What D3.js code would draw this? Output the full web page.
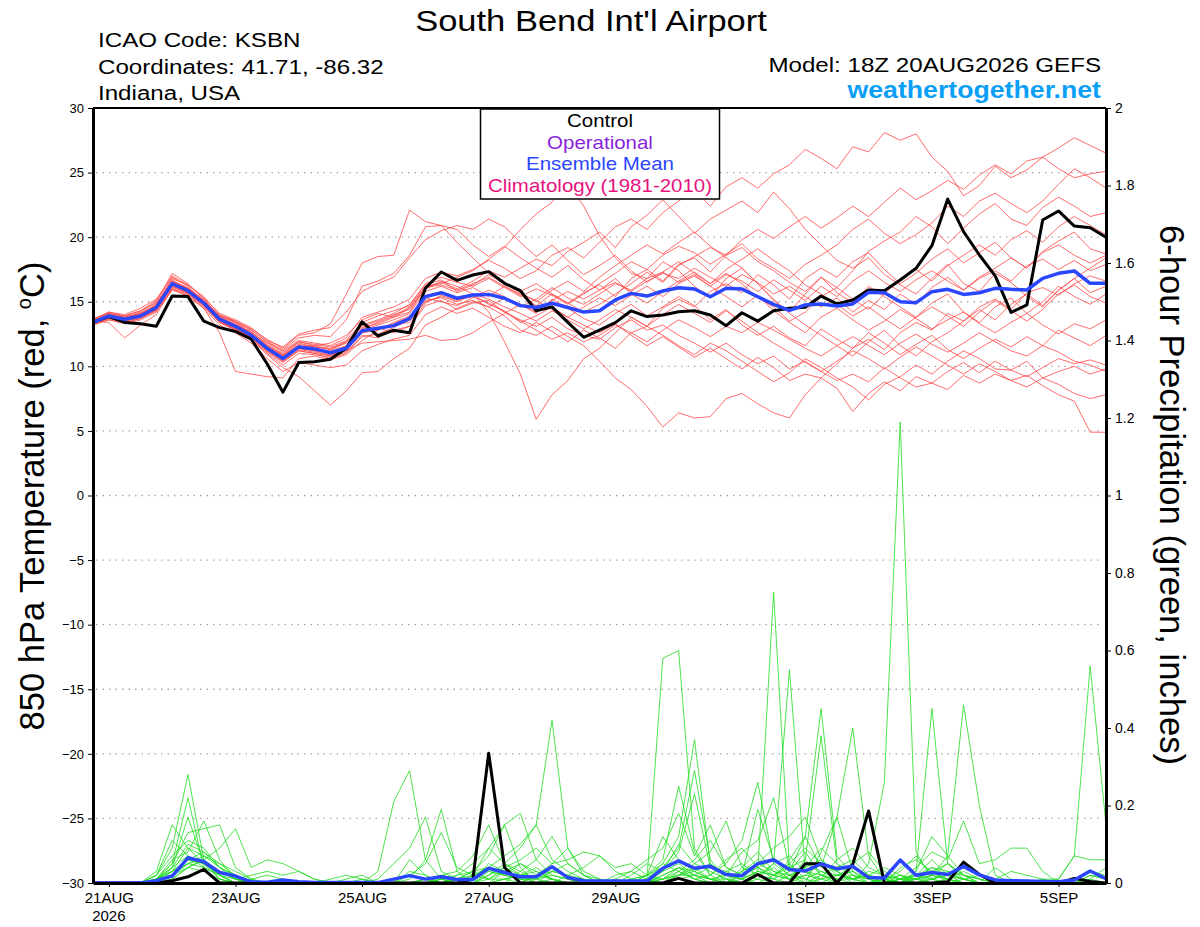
<!DOCTYPE html>
<html>
<head>
<meta charset="utf-8">
<script src="https://cdn.jsdelivr.net/npm/d3@7"></script>
<style>
  body { margin: 0; background: #fff; }
  svg { display: block; font-family: "Liberation Sans", Arial, Helvetica, sans-serif; }
</style>
</head>
<body>
<script>
// 6-hourly steps from 18Z 20AUG2026 to 18Z 05SEP2026 (65 points)
const START_UTC = Date.UTC(2026, 7, 20, 18);
const STEP_MS = 6 * 3600 * 1000;
const N_STEPS = 65;

const TEMP_TICKS = [30, 25, 20, 15, 10, 5, 0, -5, -10, -15, -20, -25, -30];
const PRECIP_TICKS = [2, 1.8, 1.6, 1.4, 1.2, 1, 0.8, 0.6, 0.4, 0.2, 0];
const DATE_TICKS = ["2026-08-21", "2026-08-23", "2026-08-25", "2026-08-27", "2026-08-29", "2026-09-01", "2026-09-03", "2026-09-05"];
const DATE_LABELS = ["21AUG", "23AUG", "25AUG", "27AUG", "29AUG", "1SEP", "3SEP", "5SEP"];
const LEGEND_ITEMS = ["Control", "Operational", "Ensemble Mean", "Climatology (1981-2010)"];

// 850 hPa temperature, control run and ensemble mean
const controlTemp = [13.4,13.85,13.4,13.3,13.1,15.45,15.4,13.5, 13.0,12.7,12.1,10.2,8.0,10.3,10.35,10.55,
  11.4,13.45,12.35,12.8,12.6,16.05,17.3,16.65, 17.07,17.33,16.43,15.86,14.3,14.6,13.4,12.25,
  12.8,13.38,14.3,13.85,13.97,14.23,14.3,13.97, 13.15,14.15,13.5,14.31,14.49,14.57,15.44,14.83,
  15.14,15.91,15.86,16.68,17.59,19.34,22.95,20.43, 18.62,17.0,14.18,14.75,21.33,22.03,20.86,20.73, 19.99];
const meanTemp = [13.4,13.9,13.65,13.9,14.55,16.4,15.85,14.9, 13.65,13.1,12.4,11.4,10.6,11.5,11.35,11.05,
  11.4,12.75,12.95,13.15,13.7,15.4,15.7,15.27, 15.52,15.57,15.27,14.7,14.55,14.88,14.55,14.2,
  14.3,15.14,15.65,15.44,15.83,16.09,15.99,15.39, 16.04,15.99,15.39,14.8,14.33,14.75,14.83,14.67,
  14.83,15.73,15.7,15.0,14.93,15.78,15.96,15.57, 15.7,16.04,15.96,15.91,16.81,17.2,17.38,16.43, 16.43];

// 850 hPa temperature, 20 perturbed members
const memberTemp = [
  [13.6,14.2,14.0,14.5,15.2,16.9,16.2,15.0, 13.9,13.4,12.6,11.8,11.2,12.0,11.8,11.6, 12.2,13.8,14.2,14.6,15.2,16.8,17.3,17.0, 17.5,18.2,17.6,16.8,17.4,18.6,19.2,18.4, 19.6,20.8,21.4,20.6,21.9,22.8,23.6,22.4, 23.9,24.6,23.8,24.9,25.6,26.8,26.1,25.3, 27.0,26.6,28.1,27.5,28.0,26.2,25.1,23.2, 24.0,25.5,24.6,25.2,26.2,26.9,27.7,27.1, 26.5],
  [13.3,13.7,13.5,13.8,14.3,16.0,15.6,14.6, 13.4,12.8,12.1,11.0,10.1,11.0,10.9,10.7, 11.1,12.4,12.2,12.8,13.1,14.7,15.1,14.4, 14.9,15.1,14.2,13.6,13.1,13.8,12.9,12.4, 12.1,13.0,13.6,12.8,13.2,12.4,11.8,11.1, 11.8,10.9,10.2,10.8,9.8,10.4,9.6,8.9, 9.4,8.8,9.9,9.1,8.4,8.7,8.2,9.3, 8.7,9.4,8.9,9.3,8.5,7.8,7.3,4.9, 4.9],
  [13.5,13.9,13.8,14.0,14.8,16.6,16.0,15.2, 13.8,13.2,12.7,11.6,10.9,11.8,11.5,11.3, 11.8,13.1,13.5,14.0,14.4,16.0,16.6,16.2, 15.6,14.2,11.9,9.4,5.9,7.8,8.9,10.6, 11.4,12.6,13.8,13.1,14.5,15.2,14.6,15.8, 16.4,15.7,17.1,16.3,15.2,16.8,17.6,16.9, 18.1,18.8,17.5,16.4,17.2,18.3,19.1,18.0, 18.8,19.6,18.4,17.6,18.9,19.7,20.4,19.1, 18.7],
  [13.2,13.8,13.4,13.7,14.4,16.3,15.7,14.7, 13.5,12.9,12.3,11.2,10.4,11.3,11.1,10.9, 11.2,12.6,12.9,13.2,13.4,15.1,15.3,14.8, 15.1,14.6,13.9,12.8,12.4,13.1,12.3,11.6, 10.4,9.1,8.2,6.9,5.3,6.4,6.0,6.1, 7.5,7.9,7.1,6.4,6.0,7.8,9.1,10.2, 11.4,12.1,11.3,12.6,13.4,12.8,14.1,13.5, 14.6,15.2,14.4,15.7,16.1,15.5,16.4,17.0, 16.6],
  [13.7,14.1,13.9,14.3,14.9,16.8,16.3,15.4, 14.0,13.5,12.9,12.1,11.4,12.4,12.6,13.3, 15.6,18.0,18.5,18.6,22.1,21.2,20.9,19.6, 18.4,17.2,16.5,15.8,16.4,15.6,14.9,15.7, 16.3,15.4,16.8,17.5,16.6,17.9,18.4,17.3, 18.6,19.2,18.1,17.4,16.5,15.8,16.9,15.7, 14.9,16.2,15.4,14.6,13.8,14.9,15.6,14.2, 13.4,14.6,15.3,14.1,15.0,16.2,15.4,14.8, 15.6],
  [13.4,14.0,13.7,14.1,14.7,16.5,15.9,14.8, 13.6,13.0,12.5,11.5,10.8,11.6,11.3,11.2, 11.6,12.9,13.4,13.9,14.6,16.2,16.4,16.9, 17.4,18.3,19.2,20.6,21.8,22.7,24.2,22.4, 20.1,18.4,17.2,16.8,18.1,17.4,16.2,15.3, 16.8,17.6,16.4,15.1,14.2,15.6,16.9,16.1, 17.4,18.9,19.7,20.4,21.6,20.8,19.5,20.7, 21.8,22.6,21.4,20.9,22.3,23.1,22.4,21.6, 21.9],
  [13.5,13.8,13.6,13.9,14.6,16.4,15.8,15.0, 13.7,13.2,12.4,11.4,10.7,11.5,11.6,11.8, 12.4,13.6,14.1,13.8,14.2,16.1,16.5,16.0, 16.6,17.4,16.9,17.6,18.3,17.8,18.9,19.6, 20.4,19.2,20.8,21.7,22.9,21.6,20.3,21.4, 22.1,22.8,21.9,23.5,22.2,20.6,19.4,18.2, 17.6,18.4,17.1,16.3,15.6,16.8,17.9,16.4, 15.8,17.2,16.5,15.4,14.6,15.9,16.8,15.7, 16.2],
  [13.3,13.6,13.3,13.6,14.2,15.9,15.5,14.5, 13.2,12.6,11.8,10.6,9.6,10.3,10.1,9.9, 10.1,11.2,11.7,12.1,12.4,14.0,14.6,14.1, 14.5,13.8,13.1,12.6,13.4,12.7,11.9,12.8, 12.2,11.4,12.6,13.1,12.4,11.6,10.9,11.8, 11.2,10.4,9.6,8.8,9.5,10.6,9.9,9.1, 8.4,7.4,8.6,9.2,10.1,9.4,10.4,11.2, 10.6,9.8,9.7,10.4,9.1,9.6,10.0,9.4, 9.8],
  [13.4,13.7,13.5,13.8,14.4,16.2,15.6,14.7, 13.4,12.9,12.1,10.9,9.9,9.2,8.1,7.0, 8.1,9.5,9.6,10.6,11.4,13.2,13.8,14.5, 15.0,14.6,15.3,14.8,14.1,15.2,14.5,13.7, 13.2,14.1,14.8,13.9,14.6,15.4,14.7,13.6, 14.4,13.2,12.4,13.1,12.2,11.6,12.9,12.1, 11.4,12.6,11.8,10.9,11.7,12.4,11.3,10.6, 11.4,12.1,11.5,12.3,11.6,12.8,12.2,11.6, 12.4],
  [13.5,13.4,12.2,13.2,14.0,16.0,15.4,14.5, 12.6,9.6,9.4,9.2,9.1,10.6,10.8,10.5, 10.9,12.0,12.8,13.4,13.9,15.3,15.0,14.7, 15.3,15.9,15.4,14.6,15.2,16.1,15.3,14.8, 15.6,16.4,15.9,16.8,17.3,16.5,17.1,16.2, 15.4,14.6,15.5,14.3,13.4,12.6,13.8,14.5, 13.6,12.8,13.5,14.4,13.7,12.9,13.6,14.2, 13.3,12.6,13.4,14.1,13.2,12.5,13.3,12.9, 13.6],
  [13.6,14.1,13.8,14.2,15.0,17.2,16.4,15.2, 13.9,13.5,12.8,11.9,11.1,11.9,11.7,11.5, 12.0,13.4,13.9,14.3,14.7,16.4,16.9,16.5, 16.2,16.8,16.1,15.4,16.0,15.5,14.8,15.6, 16.4,17.2,18.1,17.5,18.6,19.3,18.8,17.9, 18.7,19.5,18.3,17.6,16.8,17.9,18.6,19.4, 20.6,21.4,20.3,19.5,20.2,21.1,22.4,21.6, 22.8,23.4,22.6,21.9,22.8,24.1,25.3,24.6, 23.8],
  [13.3,13.9,13.6,13.8,14.5,16.3,15.9,14.9, 13.5,13.0,12.3,11.3,10.6,11.4,11.2,10.8, 11.3,12.7,13.0,12.6,13.1,14.9,15.5,15.1, 15.4,14.9,14.2,13.5,12.8,12.1,12.6,11.9, 12.4,13.2,12.6,11.9,12.8,13.6,13.0,12.3, 13.1,12.6,13.4,12.8,12.1,11.4,10.8,11.6, 12.3,11.6,10.9,11.8,12.5,11.7,11.1,11.8, 12.6,11.9,11.2,10.8,11.6,11.1,10.4,10.1, 9.6],
  [13.4,14.0,13.8,14.1,14.8,16.7,16.0,15.1, 13.9,13.4,12.8,11.9,11.3,12.2,12.4,12.3, 13.6,16.2,16.6,17.2,18.6,20.8,20.9,20.6, 19.4,18.5,19.3,18.4,17.6,16.9,17.8,16.7, 15.9,16.8,15.6,14.9,15.8,16.6,17.3,16.4, 17.2,16.4,15.3,14.6,13.5,14.2,15.4,16.1, 15.2,14.4,15.6,16.8,17.5,16.6,17.8,18.6, 19.4,18.6,19.8,20.5,19.6,20.8,21.6,20.9, 20.2],
  [13.2,13.6,13.4,13.7,14.3,16.1,15.7,14.8, 13.6,13.1,12.5,11.6,10.9,11.6,11.4,11.0, 11.2,11.8,11.9,12.0,12.1,12.4,12.0,12.1, 12.6,13.4,14.1,14.8,14.2,15.1,15.8,15.2, 15.9,16.5,15.8,16.6,17.2,16.8,17.6,16.9, 16.2,17.1,16.5,15.6,16.2,15.4,14.6,15.3, 14.2,15.1,14.4,15.6,14.8,16.1,16.9,15.9, 16.8,17.4,16.6,17.8,18.3,17.5,18.2,17.4, 17.9],
  [13.5,14.0,13.7,14.0,14.7,16.6,16.1,15.0, 13.8,13.3,12.6,11.7,11.0,11.9,11.6,11.3, 11.9,13.2,13.6,14.1,14.8,16.3,16.7,15.8, 16.3,17.1,16.4,15.7,15.0,15.9,16.6,15.8, 16.9,17.8,18.6,19.4,18.7,19.6,20.4,19.3, 18.4,17.6,16.4,15.2,14.1,13.2,12.4,11.6, 10.8,11.9,12.8,11.6,10.8,11.9,12.6,13.5, 14.4,13.6,14.8,15.6,14.7,15.9,16.8,17.6, 18.4],
  [13.4,13.9,13.7,13.9,14.6,16.5,16.0,15.1, 13.7,13.1,12.4,11.3,10.5,11.4,11.2,11.1, 11.5,12.8,13.2,13.6,14.1,15.8,16.2,15.7, 16.1,15.4,16.2,15.5,14.7,15.6,14.9,14.2, 14.8,15.6,16.4,17.3,16.5,17.8,18.5,19.2, 18.6,19.8,20.6,19.9,20.8,21.6,20.7,21.5, 22.4,21.6,22.7,23.8,22.9,23.6,24.4,23.7, 24.8,25.6,24.9,25.9,26.2,25.3,24.6,24.9, 25.1],
  [13.3,13.8,13.5,13.8,14.5,16.2,15.8,14.8, 13.4,12.8,12.2,11.1,10.3,11.2,11.0,10.6, 11.0,12.3,12.5,13.0,13.6,15.0,15.4,15.0, 15.6,14.8,14.3,13.4,13.9,14.6,13.8,13.2, 12.6,13.3,12.4,11.6,12.3,11.5,10.7,11.4, 10.6,9.8,10.7,9.9,8.9,9.4,9.1,8.3, 6.5,7.9,8.8,8.1,9.2,8.7,9.6,10.3, 9.5,10.4,9.7,9.2,9.9,10.6,10.2,10.5, 10.1],
  [13.5,14.0,13.7,14.1,14.6,16.5,16.0,14.9, 13.7,13.2,12.5,11.5,10.8,11.7,11.5,11.4, 11.9,13.0,13.3,13.8,14.5,16.1,16.3,15.9, 16.4,16.9,16.2,15.6,15.1,14.4,13.8,14.6, 15.3,14.7,15.5,16.2,15.4,16.4,17.0,16.2, 17.1,16.6,15.8,16.7,15.9,15.1,16.2,15.4, 16.6,17.4,16.5,15.8,16.7,17.4,16.6,15.9, 16.9,17.6,18.4,17.6,18.8,19.4,18.6,18.0, 18.6],
  [13.6,14.2,13.9,14.3,15.1,17.0,16.3,15.3, 14.1,13.6,13.0,12.0,11.5,12.5,12.8,13.0, 14.2,15.8,16.4,16.9,18.4,19.8,20.5,20.9, 20.6,21.4,20.8,19.6,18.5,19.4,18.2,17.1, 17.8,18.6,17.4,16.5,17.3,18.1,17.2,16.4, 17.5,18.3,19.1,18.2,17.4,16.3,15.6,14.8, 13.9,14.6,13.7,12.9,13.8,14.6,13.9,13.1, 14.2,15.1,14.3,13.5,14.4,15.6,16.3,15.4, 14.9],
  [13.4,13.8,13.6,13.9,14.4,16.3,15.8,14.8, 13.5,12.9,12.2,11.2,10.4,11.2,11.0,10.8, 11.3,12.6,12.8,13.3,13.8,15.5,15.7,15.2, 15.6,15.2,14.6,14.1,13.5,14.3,13.6,12.9, 13.6,14.4,13.8,13.1,14.0,14.8,14.1,13.4, 14.3,13.5,12.6,11.8,11.1,10.3,9.6,10.4, 11.2,10.6,9.8,10.7,11.5,10.8,10.1,9.4, 10.2,9.6,8.9,8.4,9.1,8.6,7.9,7.5, 7.8]
];

// 6-hour precipitation (inches), control run and ensemble mean
const controlPrecip = [0,0,0,0,0,0.006,0.016,0.035, 0,0,0,0,0,0,0,0, 0,0,0,0,0,0,0,0,
  0.01,0.335,0.04,0,0,0,0,0, 0,0,0,0,0,0.012,0,0, 0,0,0.022,0,0,0.05,0.05,0,
  0.048,0.186,0,0,0,0,0.003,0.054, 0.022,0,0,0,0,0,0.012,0.004, 0];
const meanPrecip = [0,0,0,0,0.006,0.018,0.065,0.055, 0.027,0.018,0.003,0.002,0.008,0.003,0.001,0.001,
  0.001,0.001,0.001,0.01,0.019,0.01,0.016,0.009, 0.009,0.038,0.027,0.016,0.016,0.042,0.014,0.006,
  0.005,0.005,0.005,0.005,0.038,0.057,0.038,0.043, 0.022,0.019,0.05,0.06,0.035,0.031,0.049,0.037,
  0.043,0.014,0.013,0.059,0.02,0.027,0.022,0.043, 0.021,0.008,0.006,0.005,0.004,0.003,0.008,0.031, 0.011];

// 6-hour precipitation (inches), 20 perturbed members
const memberPrecip = [
  [0,0,0,0,0.02,0.09,0.28,0.06, 0.01,0,0,0,0,0,0,0, 0,0,0,0,0,0,0,0, 0,0.02,0.05,0.09,0.15,0.42,0.09,0.02, 0,0,0.01,0,0,0.03,0.01,0, 0,0,0.02,0.04,0.01,0,0.02,0, 0,0.05,0.26,1.19,0.08,0.01,0,0, 0,0,0,0,0,0,0.01,0, 0],
  [0,0,0,0,0.01,0.05,0.22,0.04, 0,0,0,0,0,0,0,0, 0,0,0.03,0.21,0.29,0.06,0.01,0, 0,0,0.01,0.02,0,0,0,0, 0,0,0,0.01,0.58,0.6,0.09,0.02, 0,0,0.03,0.75,0.04,0,0.01,0, 0,0,0.01,0,0,0.02,0.05,0.01, 0,0,0,0,0,0,0,0, 0],
  [0,0,0,0,0,0.04,0.17,0.05, 0.02,0,0,0,0,0,0,0, 0,0,0,0,0.01,0.06,0.19,0.03, 0,0,0,0,0,0.01,0,0, 0,0,0.01,0.02,0.04,0.09,0.29,0.06, 0.01,0,0.02,0.05,0.55,0.03,0,0, 0,0,0,0,0.02,0.01,0,0, 0,0,0,0,0,0,0,0, 0],
  [0,0,0,0,0.03,0.15,0.09,0.05, 0.02,0,0,0,0,0,0,0, 0,0,0,0,0,0,0,0.01, 0.03,0.07,0.15,0.04,0,0,0,0, 0,0,0,0.02,0.05,0.12,0.37,0.05, 0,0.02,0.04,0.01,0.06,0.12,0.45,0.07, 0.02,0,0.01,0,0.03,0.12,0.07,0.46, 0.2,0.02,0,0,0,0,0,0, 0],
  [0,0,0,0,0.01,0.06,0.08,0.16, 0.06,0.01,0,0,0,0,0,0, 0,0,0,0,0.06,0.02,0,0, 0,0,0,0.03,0.06,0.12,0.05,0.02, 0,0.01,0,0.02,0.06,0.25,0.08,0.02, 0.05,0.11,0.26,0.05,0.02,0,0.08,0.17, 0.4,0.07,0.01,0,0.03,0.45,0.05,0.02, 0,0,0,0,0,0,0,0, 0],
  [0,0,0,0,0,0.02,0.05,0.06, 0.09,0.14,0.04,0.06,0.05,0.03,0.01,0, 0,0,0,0,0.02,0.05,0.13,0.04, 0.02,0.04,0.07,0.1,0.15,0.06,0.03,0.01, 0,0,0.02,0.05,0.03,0.08,0.23,0.04, 0.02,0.08,0.11,0.22,0.04,0.06,0.38,0.05, 0.01,0,0,0.02,0.01,0,0,0.01, 0,0,0,0,0.01,0.01,0.07,0.56, 0.15],
  [0,0,0,0,0.02,0.07,0.11,0.09, 0.04,0.02,0,0,0,0,0,0, 0,0,0.01,0.05,0.09,0.17,0.03,0.01, 0,0,0.03,0.01,0,0,0.02,0.04, 0.07,0.03,0.01,0.02,0.12,0.06,0.03,0.01, 0,0.03,0.05,0.09,0.12,0.17,0.06,0.02, 0.01,0.03,0.02,0.01,0.04,0.08,0.06,0.16, 0.05,0.06,0.09,0.09,0.03,0,0,0.02, 0.01],
  [0,0,0,0,0.01,0.04,0.07,0.05, 0.03,0.01,0,0,0,0,0,0, 0,0,0,0,0,0.01,0.02,0.03, 0.07,0.15,0.05,0.02,0.04,0.01,0,0, 0,0.01,0.03,0.06,0.09,0.18,0.07,0.15, 0.04,0.02,0.19,0.06,0.03,0.12,0.04,0.17, 0.03,0,0,0,0.01,0.03,0,0, 0,0,0.01,0,0,0,0,0, 0],
  [0,0,0,0,0,0.03,0.06,0.08, 0.05,0.03,0.01,0,0,0,0,0, 0,0,0,0,0,0,0.01,0, 0.02,0.09,0.15,0.18,0.06,0.02,0.01,0, 0.01,0,0,0.01,0.03,0.1,0.05,0.08, 0.16,0.04,0.02,0.01,0,0.02,0.05,0.03, 0,0,0.02,0,0,0,0.01,0, 0,0,0,0,0,0.01,0.07,0.06, 0.06],
  [0,0,0,0,0,0.02,0.04,0.03, 0.01,0,0.01,0.02,0.01,0,0,0, 0.01,0.02,0,0.01,0.02,0.01,0,0, 0,0,0,0,0.02,0.05,0.06,0.08, 0.07,0.04,0.05,0.02,0.01,0.04,0.02,0, 0,0.01,0.03,0.02,0.05,0.01,0,0.02, 0.04,0.02,0,0.01,0.02,0.06,0.02,0.01, 0,0.04,0.01,0,0,0,0,0, 0],
  [0,0,0,0,0.01,0.03,0.05,0.07, 0.04,0.02,0,0,0,0,0,0, 0,0,0,0,0,0,0.01,0.02, 0.03,0.01,0.04,0.06,0.09,0.05,0.09,0.03, 0.01,0,0,0.01,0.05,0.03,0.01,0.02, 0.06,0.09,0.04,0.02,0.01,0.05,0.03,0.01, 0,0,0.01,0.02,0,0.01,0.03,0.02, 0.01,0,0,0,0,0,0,0.02, 0.01],
  [0,0,0,0,0.02,0.11,0.07,0.04, 0.02,0.01,0.02,0.03,0.02,0.03,0.01,0, 0,0,0,0,0,0,0,0.01, 0.02,0.03,0.02,0.01,0.01,0.03,0.02,0, 0,0.02,0.03,0.01,0,0.02,0.04,0.01, 0.02,0.01,0.05,0.03,0.02,0.04,0.06,0.03, 0.05,0.08,0.03,0.01,0,0.01,0.02,0.01, 0,0,0,0,0,0,0,0, 0],
  [0,0,0,0,0,0.01,0.04,0.06, 0.03,0.02,0,0,0,0,0,0, 0,0,0,0,0,0,0,0.02, 0.05,0.09,0.05,0.03,0.01,0,0,0, 0,0,0,0,0.02,0.04,0.01,0, 0.03,0.05,0.02,0.01,0.03,0.08,0.02,0.04, 0.06,0.02,0.01,0.03,0.07,0.02,0.01,0, 0,0,0,0,0,0,0,0.01, 0.04],
  [0,0,0,0,0.01,0.05,0.13,0.14, 0.15,0.04,0.01,0,0,0,0,0, 0,0,0,0,0,0.01,0,0, 0,0,0.01,0,0.02,0.01,0,0, 0,0,0,0,0.01,0.03,0.06,0.11, 0.04,0.02,0.01,0,0.02,0.04,0.09,0.05, 0.02,0.01,0,0.04,0.06,0.03,0.01,0.03, 0.01,0,0,0,0,0,0,0, 0],
  [0,0,0,0,0,0.02,0.06,0.05, 0.03,0.01,0,0,0,0,0,0, 0,0.01,0,0,0,0,0.01,0, 0,0.02,0.04,0.02,0,0.03,0.05,0.02, 0.01,0,0,0,0,0.02,0.03,0.01, 0,0.04,0.08,0.03,0.01,0.02,0.01,0.06, 0.09,0.04,0.02,0.01,0.01,0.04,0.03,0.01, 0.02,0.01,0.03,0.02,0.01,0,0,0, 0],
  [0,0,0,0,0.01,0.03,0.09,0.07, 0.05,0.02,0,0,0,0,0,0.01, 0.02,0.01,0,0,0,0,0,0, 0,0.03,0.02,0.05,0.03,0.01,0,0, 0,0,0,0,0.03,0.05,0.02,0.01, 0.01,0,0.01,0.05,0.07,0.03,0.02,0.01, 0.01,0.02,0.04,0.02,0.01,0.02,0.07,0.02, 0,0,0,0,0,0,0.01,0.03, 0.02],
  [0,0,0,0,0.01,0.04,0.1,0.08, 0.04,0.01,0,0,0,0,0,0, 0,0,0,0,0.03,0.02,0,0, 0.01,0.05,0.03,0.01,0.02,0.04,0.01,0, 0,0,0,0,0.02,0.04,0.03,0.05, 0.02,0.01,0.03,0.02,0.05,0.09,0.05,0.03, 0.01,0,0,0.01,0.02,0.04,0.02,0, 0,0,0,0,0,0,0,0, 0],
  [0,0,0,0,0,0.02,0.05,0.04, 0.02,0,0,0,0,0,0,0, 0,0,0,0,0,0.01,0.02,0.01, 0.03,0.04,0.02,0.01,0.01,0.02,0.01,0, 0,0,0,0.01,0.01,0.02,0.05,0.03, 0.01,0.03,0.06,0.02,0.01,0.06,0.02,0.01, 0.02,0.01,0,0,0.01,0.01,0.02,0.01, 0,0,0,0,0,0,0,0, 0],
  [0,0,0,0,0.01,0.03,0.06,0.05, 0.01,0,0,0,0,0,0,0, 0,0,0,0,0,0,0,0, 0.02,0.01,0.01,0.02,0.03,0.01,0,0, 0,0,0,0,0.01,0.02,0.02,0.01, 0,0.02,0.04,0.06,0.02,0.01,0.03,0.02, 0.01,0.02,0.01,0,0.01,0.02,0.01,0, 0,0,0,0,0,0,0,0, 0],
  [0,0,0,0,0,0.01,0.04,0.06, 0.03,0.01,0,0,0,0,0,0, 0,0,0,0,0,0,0.02,0.01, 0,0.01,0.03,0.05,0.02,0.03,0.02,0.01, 0,0,0,0,0,0.01,0.02,0.04, 0.03,0.01,0,0.02,0.04,0.03,0.01,0.02, 0.03,0.01,0,0.01,0.01,0.03,0.05,0.02, 0.01,0,0,0,0,0,0,0.01, 0]
];

const WIDTH = 1200;
const HEIGHT = 927;
const PLOT = { left: 93, right: 1106, top: 108, bottom: 883 };
const TEXT_STRETCH = 1.15; // the original lettering is a little wider than Arial

const times = d3.range(N_STEPS).map(i => new Date(START_UTC + i * STEP_MS));

const svg = d3.select("body").append("svg")
  .attr("width", WIDTH)
  .attr("height", HEIGHT);

const x = d3.scaleUtc()
  .domain([times[0], times[N_STEPS - 1]])
  .range([PLOT.left, PLOT.right]);
const yTemp = d3.scaleLinear().domain([-30, 30]).range([PLOT.bottom, PLOT.top]);
const yPrecip = d3.scaleLinear().domain([0, 2]).range([PLOT.bottom, PLOT.top]);

const tempLine = d3.line().x((_, i) => x(times[i])).y(d => yTemp(d));
const precipLine = d3.line().x((_, i) => x(times[i])).y(d => yPrecip(d));

svg.append("defs").append("clipPath").attr("id", "plot-clip")
  .append("rect")
  .attr("x", PLOT.left).attr("y", PLOT.top)
  .attr("width", PLOT.right - PLOT.left).attr("height", PLOT.bottom - PLOT.top);

// dotted horizontal grid at the temperature ticks
svg.append("g")
  .selectAll("line")
  .data(TEMP_TICKS.filter(t => t > -30 && t < 30))
  .enter().append("line")
  .attr("x1", PLOT.left + 3).attr("x2", PLOT.right - 3)
  .attr("y1", d => yTemp(d)).attr("y2", d => yTemp(d))
  .attr("stroke", "#a8a8a8")
  .attr("stroke-width", 1.3)
  .attr("stroke-dasharray", "1.5,5");

const plot = svg.append("g").attr("clip-path", "url(#plot-clip)");

plot.append("g").attr("class", "members-temp")
  .selectAll("path")
  .data(memberTemp)
  .enter().append("path")
  .attr("d", tempLine)
  .attr("fill", "none")
  .attr("stroke", "#ff4646")
  .attr("stroke-width", 0.8);

plot.append("g").attr("class", "members-precip")
  .selectAll("path")
  .data(memberPrecip)
  .enter().append("path")
  .attr("d", precipLine)
  .attr("fill", "none")
  .attr("stroke", "#1fdc1f")
  .attr("stroke-width", 0.8);

const heavy = (d, lineFn, color, w) => plot.append("path")
  .datum(d)
  .attr("d", lineFn)
  .attr("fill", "none")
  .attr("stroke", color)
  .attr("stroke-width", w)
  .attr("stroke-linejoin", "round");

heavy(controlTemp, tempLine, "#000", 3);
heavy(controlPrecip, precipLine, "#000", 3);
heavy(meanTemp, tempLine, "#2a46ff", 3.5);
heavy(meanPrecip, precipLine, "#2a46ff", 3.5);

// axes
const axisFont = "'Liberation Sans', Arial, sans-serif";

const leftAxis = svg.append("g")
  .attr("transform", `translate(${PLOT.left},0)`)
  .call(d3.axisLeft(yTemp).tickValues(TEMP_TICKS).tickSize(5).tickSizeOuter(0).tickPadding(4));
leftAxis.select(".domain").attr("stroke-width", 3);
leftAxis.selectAll("text").attr("font-size", 13).attr("fill", "#000").attr("font-family", axisFont);

const rightAxis = svg.append("g")
  .attr("transform", `translate(${PLOT.right},0)`)
  .call(d3.axisRight(yPrecip).tickValues(PRECIP_TICKS).tickFormat(d3.format("~g"))
    .tickSize(5).tickSizeOuter(0).tickPadding(4));
rightAxis.select(".domain").attr("stroke-width", 3);
rightAxis.selectAll("text").attr("font-size", 14).attr("fill", "#000").attr("font-family", axisFont);

const tickDates = DATE_TICKS.map(s => new Date(s + "T00:00:00Z"));
const bottomAxis = svg.append("g")
  .attr("transform", `translate(0,${PLOT.bottom})`)
  .call(d3.axisBottom(x).tickValues(tickDates).tickFormat((_, i) => DATE_LABELS[i])
    .tickSize(4).tickSizeOuter(0).tickPadding(5));
bottomAxis.select(".domain").attr("stroke-width", 3);
bottomAxis.selectAll("text").attr("font-size", 15).attr("fill", "#000").attr("font-family", axisFont);
svg.append("text")
  .attr("x", x(tickDates[0])).attr("y", 921)
  .attr("text-anchor", "middle")
  .attr("font-size", 15)
  .text("2026");

svg.append("line")
  .attr("x1", PLOT.left).attr("x2", PLOT.right)
  .attr("y1", PLOT.top).attr("y2", PLOT.top)
  .attr("stroke", "#000").attr("stroke-width", 2);

// header text
function wideText(px, py, str, size, anchor) {
  return svg.append("text")
    .attr("transform", `translate(${px},${py}) scale(${TEXT_STRETCH},1)`)
    .attr("text-anchor", anchor)
    .attr("font-size", size)
    .text(str);
}

wideText(591, 31, "South Bend Int'l Airport", 30, "middle");
wideText(98, 47, "ICAO Code: KSBN", 21, "start");
wideText(98, 74, "Coordinates: 41.71, -86.32", 21, "start");
wideText(98, 100, "Indiana, USA", 21, "start");
wideText(1101, 72, "Model: 18Z 20AUG2026 GEFS", 21, "end");
wideText(1101, 98, "weathertogether.net", 23.2, "end")
  .attr("font-weight", "bold")
  .attr("fill", "#0a9ff7");

// axis titles
svg.append("text")
  .attr("transform", "translate(44,496) rotate(-90)")
  .attr("text-anchor", "middle")
  .attr("font-size", 34.5)
  .call(t => {
    t.append("tspan").text("850 hPa Temperature (red, ");
    t.append("tspan").attr("font-size", 20).attr("dy", -13).text("o");
    t.append("tspan").attr("dy", 13).text("C)");
  });
svg.append("text")
  .attr("transform", "translate(1160,495) rotate(90)")
  .attr("text-anchor", "middle")
  .attr("font-size", 34.6)
  .text("6-hour Precipitation (green, inches)");

// legend box
const legend = svg.append("g");
legend.append("rect")
  .attr("x", 480.5).attr("y", 109)
  .attr("width", 239).attr("height", 90)
  .attr("fill", "#fff")
  .attr("stroke", "#000")
  .attr("stroke-width", 1.5);
const legendColors = ["#000", "#8a1fdc", "#2a46ff", "#e8127e"];
LEGEND_ITEMS.forEach((label, i) => {
  wideText(600, 127 + i * 21.7, label, 17.8, "middle").attr("fill", legendColors[i]);
});
</script>
</body>
</html>
